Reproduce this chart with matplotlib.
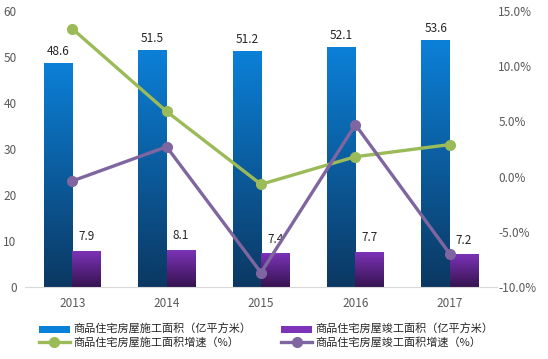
import matplotlib.pyplot as plt
import numpy as np
from matplotlib.colors import LinearSegmentedColormap
from matplotlib.lines import Line2D
from matplotlib.patches import Patch

plt.rcParams['font.family'] = ['Noto Sans CJK SC', 'DejaVu Sans']

years = ['2013', '2014', '2015', '2016', '2017']
construction = [48.6, 51.5, 51.2, 52.1, 53.6]
completed = [7.9, 8.1, 7.4, 7.7, 7.2]
construction_growth = [13.4, 5.9, -0.7, 1.8, 2.9]
completed_growth = [-0.4, 2.7, -8.7, 4.7, -7.0]

labels = ['商品住宅房屋施工面积（亿平方米）', '商品住宅房屋竣工面积（亿平方米）',
          '商品住宅房屋施工面积增速（%）', '商品住宅房屋竣工面积增速（%）']

blue_top, blue_bot = '#0b80d8', '#0b3862'
purp_top, purp_bot = '#7e34ba', '#35134f'
green = '#9bbb59'
purple_line = '#7f66a0'
tick_col = '#595959'

fig = plt.figure(figsize=(5.48, 3.59), dpi=100)
ax = fig.add_axes([25 / 548, 1 - 287 / 359, 472 / 548, 276 / 359])
ax2 = ax.twinx()

x = np.arange(len(years))
w = 0.3
b1 = ax.bar(x - w / 2, construction, w, color=blue_top, zorder=1)
b2 = ax.bar(x + w / 2, completed, w, color=purp_top, zorder=1)


def gradient(bars, top, bot):
    cmap = LinearSegmentedColormap.from_list('g', [bot, top])
    grad = np.linspace(0, 1, 256).reshape(-1, 1)
    for bar in bars:
        x0, y0 = bar.get_x(), bar.get_y()
        x1, y1 = x0 + bar.get_width(), y0 + bar.get_height()
        im = ax.imshow(grad, cmap=cmap, origin='lower', aspect='auto',
                       extent=[x0, x1, y0, y1], zorder=1.5)
        im.set_clip_path(bar)


gradient(b1, blue_top, blue_bot)
gradient(b2, purp_top, purp_bot)

for xi, v in zip(x, construction):
    ax.text(xi - w / 2, v + 1.2, f'{v}', ha='center', va='bottom', fontsize=8.5,
            color='#262626')
for xi, v in zip(x, completed):
    ax.text(xi + w / 2, v + 1.6, f'{v}', ha='center', va='bottom', fontsize=8.5,
            color='#262626')

ax.set_xlim(-0.5, 4.5)
ax.set_ylim(0, 60)
ax.set_yticks(np.arange(0, 61, 10))
ax.set_xticks(x)
ax.set_xticklabels(years)

ax2.plot(x, construction_growth, color=green, lw=2.4, marker='o', ms=7, zorder=3)
ax2.plot(x, completed_growth, color=purple_line, lw=2.4, marker='o', ms=7, zorder=3)
ax2.set_ylim(-10, 15)
ax2.set_yticks(np.arange(-10, 16, 5))
ax2.set_yticklabels([f'{t:.1f}%' for t in np.arange(-10, 16, 5)])

for a in (ax, ax2):
    for s in a.spines.values():
        s.set_visible(False)
    a.tick_params(length=0, colors=tick_col, labelsize=8.5)
ax.spines['bottom'].set_visible(True)
ax.spines['bottom'].set_color('#d9d9d9')
ax.tick_params(axis='x', pad=7)
ax.tick_params(axis='y', pad=6)
ax2.tick_params(axis='y', pad=1)
for lab in ax2.get_yticklabels():
    lab.set_horizontalalignment('left')

handles = [Patch(facecolor=blue_top, edgecolor='none'),
           Line2D([], [], color=green, lw=2.4, marker='o', ms=7),
           Patch(facecolor=purp_top, edgecolor='none'),
           Line2D([], [], color=purple_line, lw=2.4, marker='o', ms=7)]
leg = fig.legend(handles, [labels[0], labels[2], labels[1], labels[3]], ncol=2,
                 loc='center', bbox_to_anchor=(266 / 548, 1 - 336 / 359),
                 frameon=False, fontsize=8, handlelength=2.8, handleheight=0.6,
                 labelspacing=0.2, columnspacing=2.7, handletextpad=0.3)
for t in leg.get_texts():
    t.set_color('#262626')

fig.savefig('out.png', dpi=100)
